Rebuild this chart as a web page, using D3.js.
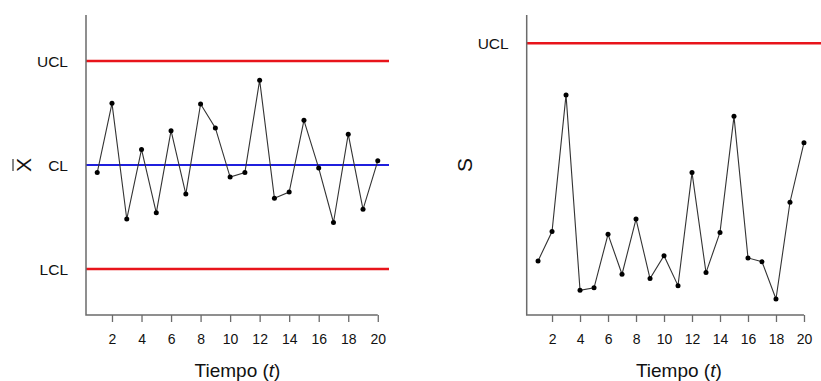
<!DOCTYPE html>
<html>
<head>
<meta charset="utf-8">
<script src="https://cdn.jsdelivr.net/npm/d3@7"></script>
<style>
  body { margin: 0; background: #fff; }
  svg { display: block; font-family: Arial, "Liberation Sans", sans-serif; }
</style>
</head>
<body>
<div id="chart"></div>
<script>
// muestras (t = 1..20)
var tiempo = d3.range(1, 21);
var xTicks = [2, 4, 6, 8, 10, 12, 14, 16, 18, 20];

// grafico X-barra (en unidades de sigma, CL = 0)
var xbarValues = [-0.22, 1.78, -1.56, 0.45, -1.38, 0.99, -0.84, 1.76, 1.07, -0.35,
                  -0.22, 2.45, -0.96, -0.78, 1.29, -0.09, -1.66, 0.89, -1.28, 0.12];
var xbarLimits = [{name: "UCL", value: 3, color: "#e8141b"},
                  {name: "CL", value: 0, color: "#1f1fdd"},
                  {name: "LCL", value: -3, color: "#e8141b"}];

// grafico S (UCL = 1)
var sValues = [0.199, 0.307, 0.810, 0.091, 0.100, 0.297, 0.150, 0.353, 0.134, 0.218,
               0.108, 0.524, 0.156, 0.304, 0.731, 0.210, 0.196, 0.059, 0.415, 0.634];
var sLimits = [{name: "UCL", value: 1, color: "#e8141b"}];

var W = 821, H = 381;
var svg = d3.select("#chart").append("svg")
    .attr("width", W)
    .attr("height", H);

function controlChart(opt) {
    var xScale = d3.scaleLinear().domain(opt.xDomain).range([opt.left, opt.right]);
    var yScale = d3.scaleLinear().domain(opt.yDomain).range([opt.bottom, opt.top]);
    var g = svg.append("g");

    // lineas de control
    g.selectAll(".limit")
        .data(opt.limits)
        .enter()
        .append("line")
        .attr("x1", opt.left)
        .attr("x2", opt.lineEnd)
        .attr("y1", function(d) { return yScale(d.value); })
        .attr("y2", function(d) { return yScale(d.value); })
        .attr("stroke", function(d) { return d.color; })
        .attr("stroke-width", function(d) { return d.name == "CL" ? 2 : 2.6; });

    g.selectAll(".limit-label")
        .data(opt.limits)
        .enter()
        .append("text")
        .attr("x", opt.left - 18)
        .attr("y", function(d) { return yScale(d.value); })
        .attr("dy", "0.36em")
        .attr("text-anchor", "end")
        .attr("font-size", 15.5)
        .attr("fill", "#111")
        .text(function(d) { return d.name; });

    // eje x
    var xAxis = d3.axisBottom(xScale).tickValues(xTicks).tickSize(7).tickPadding(12);
    var ax = g.append("g")
        .attr("transform", "translate(0," + opt.bottom + ")")
        .call(xAxis);
    ax.select(".domain").remove();
    ax.selectAll(".tick line").attr("stroke", "#6b6b6b").attr("stroke-width", 1.3);
    ax.selectAll(".tick text").attr("font-size", 14).attr("fill", "#111")
        .attr("font-family", "Arial, 'Liberation Sans', sans-serif");

    // marco en L
    g.append("path")
        .attr("d", "M" + opt.left + "," + opt.top + "V" + opt.bottom + "H" + xScale(20))
        .attr("fill", "none")
        .attr("stroke", "#6b6b6b")
        .attr("stroke-width", 1.5);

    // serie
    var line = d3.line()
        .x(function(d, i) { return xScale(tiempo[i]); })
        .y(function(d) { return yScale(d); });
    g.append("path")
        .datum(opt.values)
        .attr("d", line)
        .attr("fill", "none")
        .attr("stroke", "#333")
        .attr("stroke-width", 1.1);
    g.selectAll(".pt")
        .data(opt.values)
        .enter()
        .append("circle")
        .attr("cx", function(d, i) { return xScale(tiempo[i]); })
        .attr("cy", function(d) { return yScale(d); })
        .attr("r", 2.5)
        .attr("fill", "#000");

    // titulo eje x
    var xt = g.append("text")
        .attr("x", (opt.left + opt.right) / 2)
        .attr("y", 377)
        .attr("text-anchor", "middle")
        .attr("font-size", 19)
        .attr("fill", "#111");
    xt.append("tspan").text("Tiempo (");
    xt.append("tspan").attr("font-style", "italic").text("t");
    xt.append("tspan").text(")");

    // titulo eje y
    var yt = g.append("g")
        .attr("transform", "translate(" + opt.yLabelX + "," + ((opt.top + opt.bottom) / 2) + ") rotate(-90)");
    yt.append("text")
        .attr("text-anchor", "middle")
        .attr("y", 7)
        .attr("font-size", 21)
        .attr("fill", "#111")
        .text(opt.yLabel);
    if (opt.overline) {
        yt.append("line")
            .attr("x1", -6).attr("x2", 6)
            .attr("y1", -11).attr("y2", -11)
            .attr("stroke", "#111")
            .attr("stroke-width", 1);
    }
}

controlChart({
    left: 86, right: 389, top: 15, bottom: 315, lineEnd: 389,
    xDomain: [0.24, 20.76], yDomain: [-4.33, 4.33],
    values: xbarValues, limits: xbarLimits,
    yLabel: "X", overline: true, yLabelX: 24
});

controlChart({
    left: 526.7, right: 831, top: 15, bottom: 315, lineEnd: 831,
    xDomain: [0.19, 21.93], yDomain: [0, 1.104],
    values: sValues, limits: sLimits,
    yLabel: "S", overline: false, yLabelX: 465
});
</script>
</body>
</html>
